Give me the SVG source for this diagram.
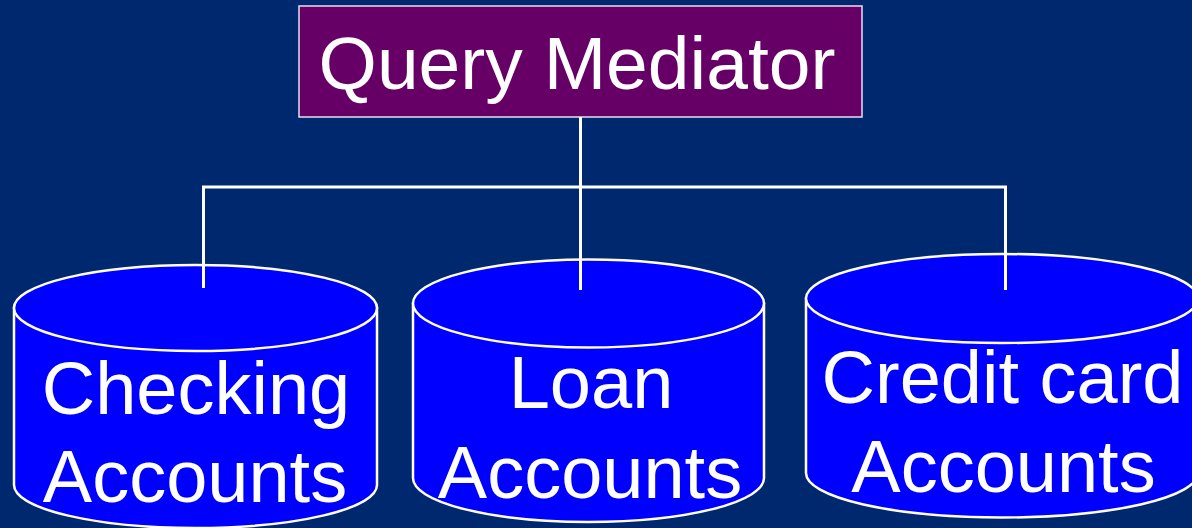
<svg xmlns="http://www.w3.org/2000/svg" width="1192" height="528" viewBox="0 0 1192 528">
<style>
.bg{fill:#00286e}
.cyl{fill:#0000ff;stroke:#ffffff;stroke-width:2.5}
.box{fill:#660066;stroke:#e8e0f0;stroke-width:1.5}
.conn{stroke:#ffffff;stroke-width:3;fill:none}
text{font-family:"Liberation Sans",Arial,sans-serif;font-size:74px;fill:#ffffff;text-anchor:middle}
.title{font-size:75px}
</style>
<rect class="bg" x="0" y="0" width="1192" height="528"/>
<g id="mediator">
<rect class="box" x="299" y="6" width="563" height="111"/>
<text class="title" x="577" y="89">Query Mediator</text>
</g>
<g id="checking">
<path class="cyl" d="M14,308 L14,485 A181.5,43 0 0 0 377,485 L377,308 Z"/>
<ellipse class="cyl" cx="195.5" cy="308" rx="181.5" ry="43"/>
<text x="196" y="414">Checking</text>
<text x="195" y="502">Accounts</text>
</g>
<g id="loan">
<path class="cyl" d="M413,303.5 L413,478 A175.5,44 0 0 0 764,478 L764,303.5 Z"/>
<ellipse class="cyl" cx="588.5" cy="303.5" rx="175.5" ry="44"/>
<text x="591" y="408">Loan</text>
<text x="590" y="498">Accounts</text>
</g>
<g id="credit">
<path class="cyl" d="M806,298.5 L806,473 A196,44.5 0 0 0 1198,473 L1198,298.5 Z"/>
<ellipse class="cyl" cx="1002" cy="298.5" rx="196" ry="44.5"/>
<text x="1002.5" y="403">Credit card</text>
<text x="1003.5" y="492">Accounts</text>
</g>
<g id="connectors">
<line class="conn" x1="580.5" y1="117" x2="580.5" y2="290"/>
<polyline class="conn" points="203.5,288 203.5,187 1005.5,187 1005.5,290"/>
</g>
</svg>
